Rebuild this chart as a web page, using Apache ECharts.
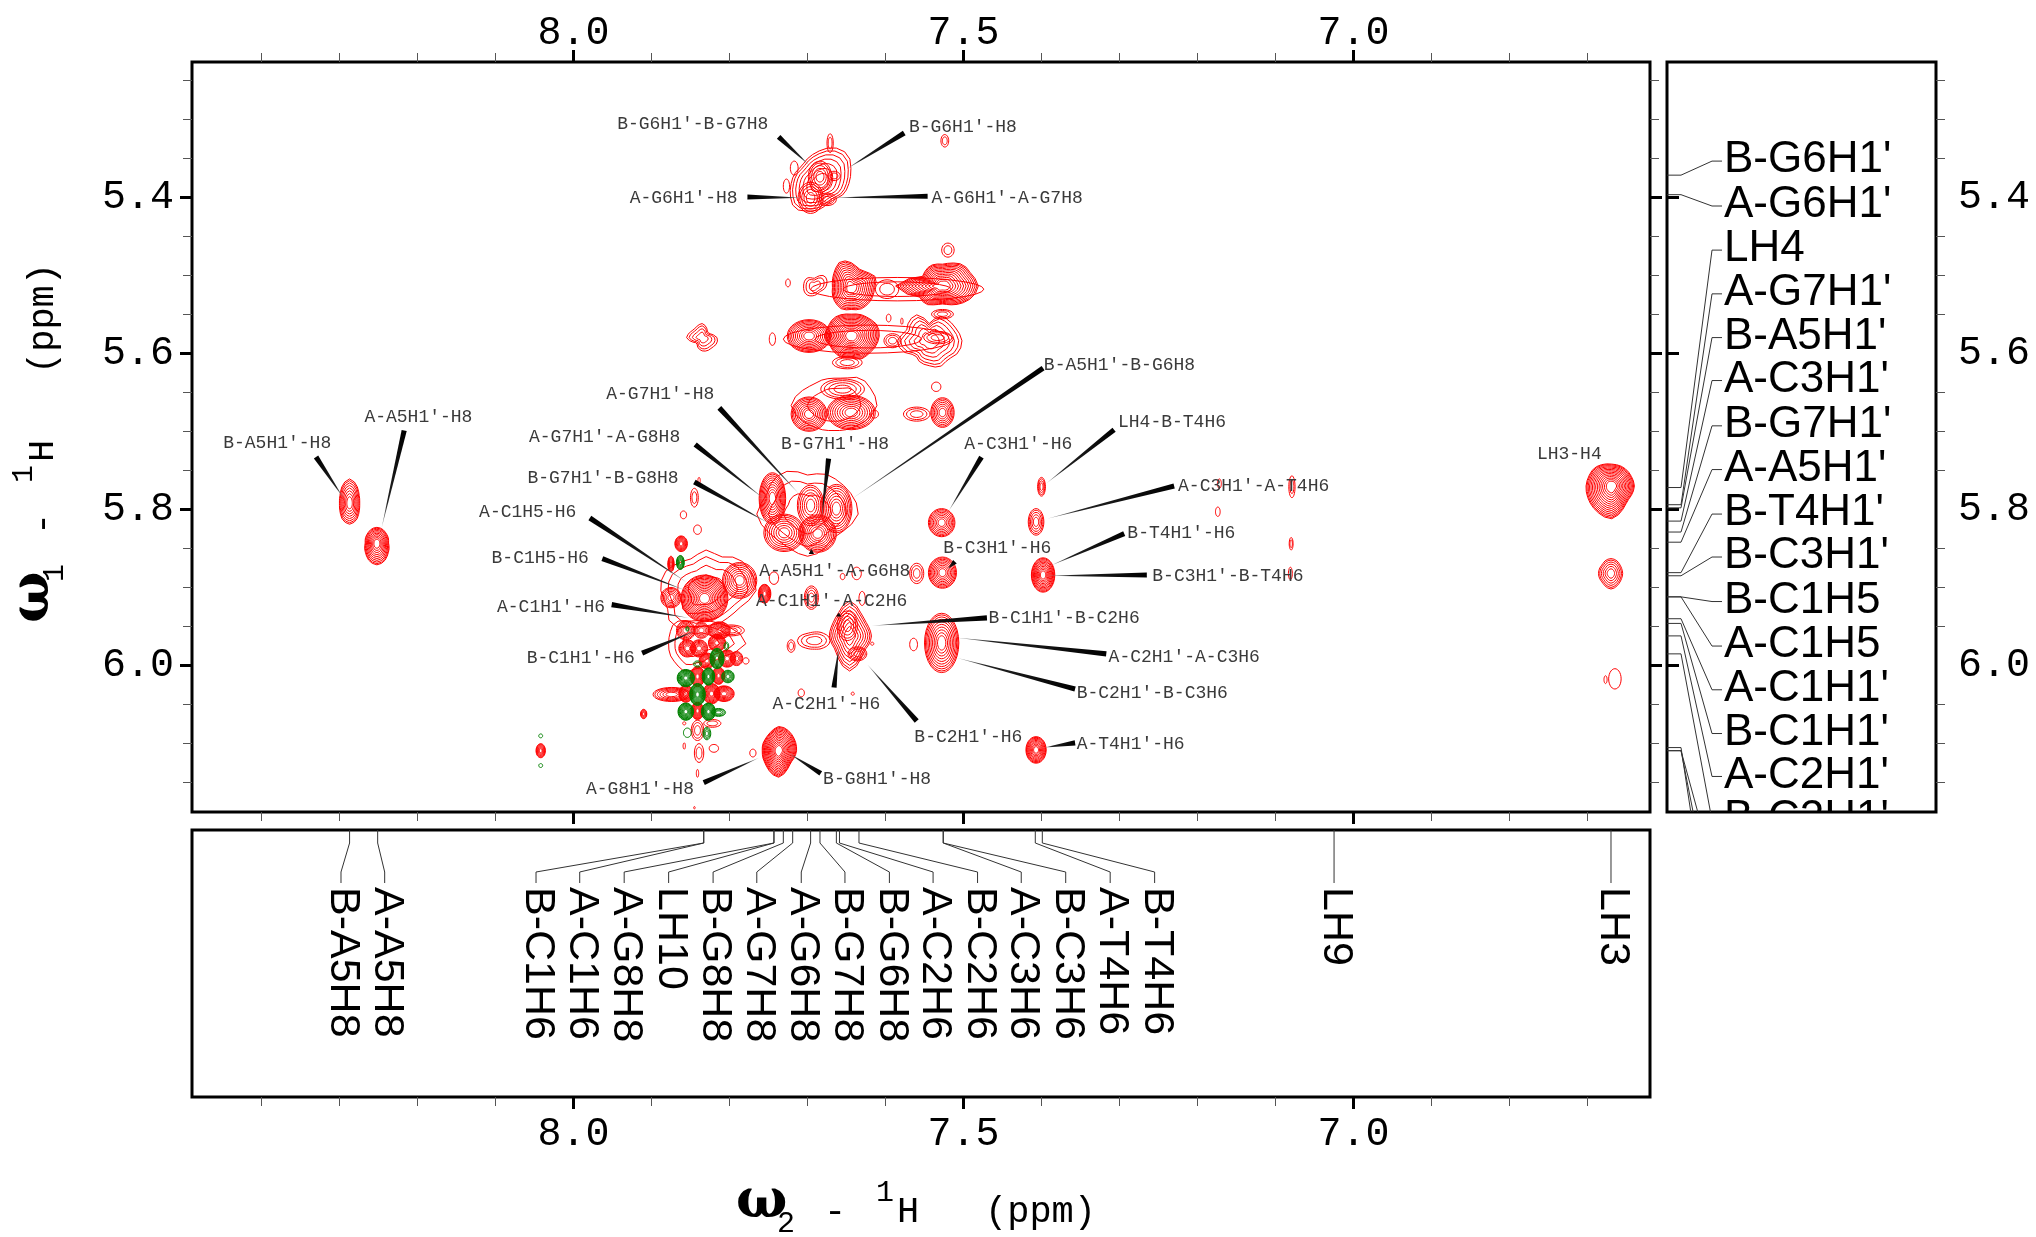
<!DOCTYPE html>
<html><head><meta charset="utf-8">
<style>html,body{margin:0;padding:0;background:#fff}#c{width:2036px;height:1237px}</style>
<script src="https://cdn.jsdelivr.net/npm/echarts@6/dist/echarts.min.js"></script>
</head><body><div id="c"></div>
<script>
// Axis ranges and ticks (ppm)
const w2Range = [6.620, 8.489];
const w1Range = [5.2271, 6.1875];
const w2Major = [8.0, 7.5, 7.0];
const w2Minor = [8.4,8.3,8.2,8.1,7.9,7.8,7.7,7.6,7.4,7.3,7.2,7.1,6.9,6.8,6.7];
const w1Major = [5.4, 5.6, 5.8, 6.0];
const w1Minor = [5.25,5.3,5.35,5.45,5.5,5.55,5.65,5.7,5.75,5.85,5.9,5.95,6.05,6.1,6.15];

// Contour peaks: [w2, w1, contour levels, half-widths in 0.001 ppm]
// half-widths are either (w2, w1) or a list of outline radii going round from E through N
const peaksG6 = [
 [7.671,5.331,2,4,12],[7.685,5.383,7,[38,44,52,50,42,36,32,34,36,40,44,38,33,28,28,34]],[7.684,5.374,5,15,20],[7.696,5.401,5,16,20],
 [7.666,5.373,2,8,6],[7.675,5.403,3,12,8],[7.717,5.363,1,5,9],[7.727,5.386,1,4,9],[7.524,5.328,2,5,8],[7.520,5.468,2,8,9]];
const peaksRidge1 = [
 [7.644,5.516,11,[30,34,28,26,32,36,30,26,24,26,28,30,28,30,30,30]],[7.527,5.514,13,[46,40,38,32,28,30,30,30,60,34,32,26,23,26,32,40]],[7.598,5.518,2,15,12],[7.691,5.514,3,[15,18,10,14,14,15,12,10]],[7.725,5.510,1,3,5],
 [7.585,5.518,2,111,15]];
const peaksRidge2 = [
 [7.644,5.578,14,[36,36,32,30,28,30,32,32,34,30,30,30,28,32,32,34]],[7.698,5.578,10,28,21],[7.591,5.584,3,11,9],
 [7.544,5.584,6,[42,38,36,34,22,36,36,32,41,36,26,30,32,36,34,40]],
 [7.533,5.580,3,18,8],[7.527,5.550,3,14,6],[7.596,5.555,1,3,5],[7.579,5.559,1,1.5,4],
 [7.835,5.580,4,[19,12,10,14,18,16,15,17,20,14,10,14,17,18,18,20]],[7.745,5.582,1,4,8],[7.649,5.612,3,19,8],[7.622,5.582,2,109,18]];
const peaksRidge3 = [
 [7.666,5.667,2,[55,52,49,38,35,36,38,46,55,46,38,34,32,34,38,46]],[7.698,5.678,9,23,22],[7.644,5.676,9,31,22],[7.655,5.646,4,28,13],
 [7.527,5.676,7,15,19],[7.560,5.678,3,17,9],[7.535,5.643,1,6,6],[7.614,5.678,1,5,5]];
const peaksG7 = [
 [7.700,5.806,3,[65,62,58,56,50,60,62,58,65,56,50,50,54,50,45,52]],[7.745,5.786,10,17,33],[7.730,5.830,8,26,24],[7.687,5.831,9,24,24],
 [7.696,5.795,6,17,26],[7.663,5.799,8,20,31],[7.845,5.785,2,5,12],[7.859,5.807,1,4,5],[7.841,5.826,1,5,6],
 [7.839,5.763,1,1.5,4],[7.862,5.844,8,8,10],[7.875,5.870,7,4,10]];
const peaksC1 = [
 [7.832,5.914,14,30,30],[7.830,5.904,4,[64,62,58,47,52,45,50,58,58,54,62,50,45,45,45,50]],[7.787,5.891,8,22,23],[7.875,5.913,6,13,13],
 [7.755,5.908,9,8,12],[7.743,5.888,1,6,8],[7.695,5.913,4,9,15],[7.637,5.882,1,6,8],[7.560,5.882,3,9,13],
 [7.655,5.886,1,3,4],[7.630,5.914,1,4,9]];
const peaksChequerRed = [
 [7.843,5.972,3,[64,50,38,32,26,32,38,36,35,36,36,38,32,32,32,40]],[7.856,5.955,6,12,12],[7.836,5.955,5,10,10],[7.813,5.955,8,14,11],
 [7.798,5.955,3,17,7],[7.854,5.978,7,11,11],[7.839,5.978,7,11,11],[7.816,5.971,8,11,11],[7.829,5.994,8,10,10],
 [7.803,5.991,8,11,11],[7.791,5.991,5,8,9],[7.779,5.994,1,4,4],[7.841,6.014,10,9,13],[7.814,6.013,9,8,11],
 [7.874,6.037,6,24,9],[7.856,6.036,9,9,11],[7.823,6.036,10,11,13],[7.807,6.036,8,13,10],[7.841,6.058,10,8,11],
 [7.841,6.083,3,8,13],[7.822,6.074,2,11,5],[7.839,6.112,2,6,12],[7.820,6.106,1,6,5],[7.858,6.074,1,2,2],
 [7.858,6.103,1,1.5,4],[7.841,6.138,1,1.5,5],[7.845,6.182,1,1,1.5],[7.910,6.062,5,4,6],[8.042,6.109,7,6,9]];
const peaksG8C2 = [
 [7.737,6.109,14,[23,24,26,29,31,26,23,22,21,22,24,29,34,27,22,22]],[7.770,6.112,1,4,5],[7.646,5.962,8,[28,27,28,34,45,34,28,26,26,25,26,34,45,34,27,27]],
 [7.649,5.949,4,13,19],[7.636,5.985,4,12,9],[7.691,5.968,3,[20,14,11,13,22,14,11,14]],[7.721,5.975,2,5,8],[7.708,6.035,1,4,5],
 [7.642,6.036,1,2,2],[7.617,5.972,1,2,2]];
const peaksC3T4 = [
 [7.528,5.817,8,17,18],[7.527,5.881,9,18,20],[7.528,5.971,10,22,38],[7.564,5.973,1,5,8],
 [7.400,5.771,4,5,12],[7.407,5.816,5,10,17],[7.398,5.884,11,15,22],[7.407,6.108,10,13,17],
 [7.172,5.767,1,2.5,6],[7.174,5.803,1,3,6],[7.079,5.771,2,4,14],[7.080,5.844,2,2.5,8],[7.081,5.882,1,2.5,8]];
const peaksLH3 = [
 [6.669,5.770,14,[29,28,28,28,28,30,32,32,33,34,36,39,42,34,28,28]],[6.670,5.882,6,[15,15,16,18,19,18,16,16,16,16,16,18,20,18,16,15]],[6.665,6.017,1,8,13],[6.677,6.018,1,2,5]];
const peaksA5 = [
 [8.287,5.792,8,[13,14,17,24,31,24,17,14,13,14,17,23,27,23,17,14]],[8.252,5.843,10,[15,16,17,19,20,19,17,16,15,17,20,25,28,25,20,17]]];
const peaksGreen = [
 [7.863,5.868,7,5,9],[7.816,5.991,10,9,13],[7.804,5.975,2,3,5],[7.841,5.998,2,5,4],[7.856,6.016,10,11,11],
 [7.827,6.014,10,8,11],[7.802,6.014,6,8,8],[7.841,6.037,11,10,14],[7.856,6.059,10,10,11],[7.827,6.059,10,9,11],
 [7.814,6.060,4,9,5],[7.854,6.086,1,5,6],[7.829,6.087,4,5,8],[8.042,6.090,1,2.5,2.5],[8.042,6.128,1,2.5,2.5],
 [7.854,5.953,2,2,3]];

// Cross-peak annotations: text, text anchor, leader base, leader tip (w2, w1 in ppm)
const crossText = ["B-G6H1'-B-G7H8","B-G6H1'-H8","A-G6H1'-H8","A-G6H1'-A-G7H8","A-G7H1'-H8","A-G7H1'-A-G8H8","B-G7H1'-B-G8H8",
 "A-C1H5-H6","B-C1H5-H6","A-C1H1'-H6","B-C1H1'-H6","B-A5H1'-H8","A-A5H1'-H8","B-G7H1'-H8","B-A5H1'-B-G6H8","A-C3H1'-H6",
 "LH4-B-T4H6","A-C3H1'-A-T4H6","B-T4H1'-H6","B-C3H1'-B-T4H6","B-C3H1'-H6","A-A5H1'-A-G6H8","A-C1H1'-A-C2H6","B-C1H1'-B-C2H6",
 "A-C2H1'-A-C3H6","B-C2H1'-B-C3H6","A-C2H1'-H6","B-C2H1'-H6","A-T4H1'-H6","A-G8H1'-H8","B-G8H1'-H8","LH3-H4"];
const crossAnchor = [[7.944,5.307],[7.570,5.310],[7.928,5.401],[7.541,5.401],[7.958,5.652],[8.057,5.708],[8.059,5.760],
 [8.121,5.804],[8.105,5.862],[8.098,5.925],[8.060,5.990],[8.449,5.715],[8.268,5.682],[7.734,5.717],[7.397,5.616],[7.499,5.716],
 [7.302,5.689],[7.225,5.770],[7.290,5.830],[7.258,5.886],[7.526,5.850],[7.762,5.879],[7.766,5.917],[7.468,5.940],
 [7.314,5.989],[7.355,6.036],[7.745,6.050],[7.563,6.092],[7.355,6.101],[7.984,6.158],[7.680,6.146],[6.765,5.729]];
const crossBase = [[7.737,5.323],[7.576,5.318],[7.777,5.400],[7.546,5.399],[7.813,5.670],[7.844,5.717],[7.845,5.765],
 [7.979,5.811],[7.963,5.863],[7.951,5.922],[7.912,5.984],[8.330,5.733],[8.217,5.699],[7.673,5.735],[7.398,5.619],[7.477,5.733],
 [7.307,5.698],[7.230,5.770],[7.294,5.831],[7.265,5.884],[7.511,5.867],[7.695,5.857],[7.660,5.937],[7.470,5.939],
 [7.317,5.985],[7.357,6.030],[7.666,6.028],[7.560,6.071],[7.357,6.099],[7.833,6.150],[7.683,6.138],null];
const crossTip = [[7.698,5.359],[7.650,5.364],[7.708,5.401],[7.668,5.401],[7.711,5.780],[7.755,5.787],[7.749,5.818],
 [7.854,5.894],[7.856,5.904],[7.852,5.939],[7.843,5.955],[8.295,5.785],[8.246,5.824],[7.682,5.812],[7.644,5.787],[7.519,5.802],
 [7.394,5.767],[7.393,5.812],[7.388,5.872],[7.393,5.885],[7.520,5.876],[7.695,5.850],[7.660,5.932],[7.618,5.949],
 [7.511,5.964],[7.509,5.990],[7.660,5.977],[7.623,5.999],[7.396,6.105],[7.762,6.118],[7.723,6.113],null];

// w2 assignments in the lower panel: text, shift of the resonance, shift of the text
const w2Text = ["B-A5H8","A-A5H8","B-C1H6","A-C1H6","A-G8H8","LH10","B-G8H8","A-G7H8","A-G6H8","B-G7H8","B-G6H8","A-C2H6","B-C2H6","A-C3H6","B-C3H6","A-T4H6","B-T4H6","LH9","LH3"];
const w2Shift = [8.287,8.251,7.833,7.833,7.743,7.743,7.731,7.719,7.696,7.684,7.663,7.659,7.634,7.526,7.526,7.408,7.399,7.025,6.670];
const w2TextAt = [8.298,8.242,8.048,7.992,7.935,7.878,7.821,7.765,7.708,7.652,7.595,7.539,7.482,7.426,7.369,7.312,7.255,7.025,6.670];

// w1 assignments in the right panel
const w1Text = ["B-G6H1'","A-G6H1'","LH4","A-G7H1'","B-A5H1'","A-C3H1'","B-G7H1'","A-A5H1'","B-T4H1'","B-C3H1'","B-C1H5","A-C1H5","A-C1H1'","B-C1H1'","A-C2H1'","B-C2H1'","A-G8H1'","B-G8H1'","A-T4H1'"];
const w1Shift = [5.372,5.397,5.772,5.794,5.798,5.815,5.829,5.842,5.881,5.885,5.912,5.912,5.940,5.946,5.962,5.985,6.109,6.109,6.105];
const w1TextAt = [5.354,5.4115,5.468,5.524,5.580,5.635,5.693,5.749,5.806,5.861,5.918,5.975,6.031,6.087,6.142,6.198,6.254,6.310,6.366];

const MONO = "'Liberation Mono'", SANS = "'Liberation Sans'";
const chart = echarts.init(document.getElementById('c'), null, {renderer:'canvas'});
const redPeaks = [].concat(peaksG6,peaksRidge1,peaksRidge2,peaksRidge3,peaksG7,peaksC1,peaksChequerRed,peaksG8C2,peaksC3T4,peaksLH3,peaksA5);

function axisOf(kind, gridIndex, position, range, values, major, labelled, margin){
  return {type:'value', gridIndex, position, inverse:true, min:range[0], max:range[1], scale:true,
    axisLine:{show:false}, splitLine:{show:false}, minorTick:{show:false},
    axisTick:{show:true, inside:false, customValues:values, length:major?12:9, lineStyle:{color:major?'#000':'#555', width:major?3:1}},
    axisLabel:{show:!!labelled, customValues:values, margin:margin||10, fontFamily:'Liberation Mono', fontSize:40, color:'#000',
      formatter:v=>Number(v).toFixed(1)}};
}
const hidden = (gridIndex)=>({type:'value', gridIndex, min:0, max:1, show:false});
const xAxes = [
  axisOf('x',0,'top',w2Range,w2Major,true,true,9), axisOf('x',0,'top',w2Range,w2Minor,false),
  axisOf('x',0,'bottom',w2Range,w2Major,true), axisOf('x',0,'bottom',w2Range,w2Minor,false),
  axisOf('x',1,'bottom',w2Range,w2Major,true,true,17), axisOf('x',1,'bottom',w2Range,w2Minor,false),
  hidden(2)];
const yAxes = [
  axisOf('y',0,'left',w1Range,w1Major,true,true,18), axisOf('y',0,'left',w1Range,w1Minor,false),
  axisOf('y',0,'right',w1Range,w1Major,true), axisOf('y',0,'right',w1Range,w1Minor,false),
  hidden(1),
  axisOf('y',2,'right',w1Range,w1Major,true,true,22), axisOf('y',2,'right',w1Range,w1Minor,false)];

// Outline radius at a fraction of the way round, rounded smoothly between the read radii
function radiusAt(list, f){
  const n = list.length, t = f*n, i = Math.floor(t), u = t-i;
  const p0 = list[(i-1+n)%n], p1 = list[i%n], p2 = list[(i+1)%n], p3 = list[(i+2)%n];
  return 0.5*((2*p1)+(-p0+p2)*u+(2*p0-5*p1+4*p2-p3)*u*u+(-p0+3*p1-3*p2+p3)*u*u*u);
}
// Nested contour rings of a peak, placed through the axes
function contourRender(rows, color){
  return function(params, api){
    const r = rows[params.dataIndex], n = r[2], children = [];
    for(let k=0;k<n;k++){
      const s = 1 - 0.86*Math.pow(k/n,1.2), pts = [];
      for(let i=0;i<28;i++){
        const f = i/28, a = f*2*Math.PI; let dx, dy;
        if(Array.isArray(r[3])){ const q = radiusAt(r[3],f); dx = q*Math.cos(a); dy = q*Math.sin(a); }
        else { dx = r[3]*Math.cos(a); dy = r[4]*Math.sin(a); }
        pts.push(api.coord([r[0]-s*dx/1000, r[1]-s*dy/1000]));
      }
      children.push({type:'polygon', shape:{points:pts}, style:{fill:'none', stroke:color, lineWidth:1}, silent:true});
    }
    return {type:'group', children};
  };
}
const contourSeries = (name, rows, color)=>({type:'custom', name, xAxisIndex:0, yAxisIndex:0, clip:true, progressive:0, silent:true,
  data:rows.map(r=>[r[0],r[1]]), encode:{x:0,y:1}, renderItem:contourRender(rows,color)});

function crossRender(params, api){
  const i = params.dataIndex, anchor = api.coord(crossAnchor[i]), children = [];
  if(crossBase[i]){
    const b = api.coord(crossBase[i]), t = api.coord(crossTip[i]);
    const dx=t[0]-b[0], dy=t[1]-b[1], len=Math.hypot(dx,dy)||1, nx=-dy/len*2.6, ny=dx/len*2.6;
    children.push({type:'polygon', shape:{points:[[b[0]+nx,b[1]+ny],[b[0]-nx,b[1]-ny],t]},
      style:{fill:new echarts.graphic.LinearGradient(b[0],b[1],t[0],t[1],[{offset:0,color:'#000'},{offset:0.75,color:'#222'},{offset:1,color:'#aaa'}],true)}, silent:true});
  }
  children.push({type:'text', x:anchor[0], y:anchor[1], style:{text:crossText[i], font:"18px "+MONO, fill:'#3a3a3a', align:'left', verticalAlign:'middle'}, silent:true});
  return {type:'group', children};
}
function lowerRender(params, api){
  const i = params.dataIndex, top = params.coordSys.y;
  const xs = api.coord([w2Shift[i],0.5])[0], xl = api.coord([w2TextAt[i],0.5])[0];
  return {type:'group', children:[
    {type:'polyline', shape:{points:[[xs,top],[xs,top+13],[xl,top+42],[xl,top+53]]}, style:{fill:'none',stroke:'#333',lineWidth:1}, silent:true},
    {type:'text', x:xl+2, y:top+57, rotation:-Math.PI/2, style:{text:w2Text[i], font:"43px "+SANS, fill:'#000', align:'left', verticalAlign:'middle'}, silent:true}
  ]};
}
function rightRender(params, api){
  const i = params.dataIndex, left = params.coordSys.x;
  const ys = api.coord([0.5,w1Shift[i]])[1], yl = api.coord([0.5,w1TextAt[i]])[1];
  return {type:'group', children:[
    {type:'polyline', shape:{points:[[left,ys],[left+14,ys],[left+45,yl],[left+55,yl]]}, style:{fill:'none',stroke:'#333',lineWidth:1}, silent:true},
    {type:'text', x:left+57, y:yl-1, style:{text:w1Text[i], font:"44px "+SANS, fill:'#000', align:'left', verticalAlign:'middle'}, silent:true}
  ]};
}

// Axis titles
function titlePieces(sub){
  return [
    ["\u03C9","bold 54px 'DejaVu Serif'",736,1203],[sub,"30px "+MONO,777,1224],["-","37px "+MONO,824,1212],
    ["1","30px "+MONO,876,1193],["H","37px "+MONO,897,1212],["(ppm)","37px "+MONO,985,1212]];
}
const titleEls = [];
titlePieces("2").forEach(p=>titleEls.push({type:'text', x:p[2], y:p[3], silent:true, style:{text:p[0],font:p[1],fill:'#000',align:'left',verticalAlign:'middle'}}));
titlePieces("1").forEach(p=>titleEls.push({type:'text', x:43-(1212-p[3]), y:372+(987-p[2]), rotation:Math.PI/2, silent:true, style:{text:p[0],font:p[1],fill:'#000',align:'left',verticalAlign:'middle'}}));

chart.setOption({
  animation:false, backgroundColor:'#fff',
  grid:[
    {left:192, top:62, width:1458, height:750, show:true, borderColor:'#000', borderWidth:3, backgroundColor:'transparent', containLabel:false},
    {left:192, top:830, width:1458, height:267, show:true, borderColor:'#000', borderWidth:3, backgroundColor:'transparent', containLabel:false},
    {left:1667, top:62, width:269, height:750, show:true, borderColor:'#000', borderWidth:3, backgroundColor:'transparent', containLabel:false}],
  xAxis:xAxes, yAxis:yAxes,
  graphic:{elements:titleEls},
  series:[
    contourSeries('red contours', redPeaks, '#ff0000'),
    contourSeries('green contours', peaksGreen, '#008000'),
    {type:'custom', name:'cross peaks', xAxisIndex:0, yAxisIndex:0, clip:false, progressive:0, silent:true,
      data:crossAnchor.map(a=>[a[0],a[1]]), encode:{x:0,y:1}, renderItem:crossRender},
    {type:'custom', name:'w2 assignments', xAxisIndex:4, yAxisIndex:4, clip:false, progressive:0, silent:true,
      data:w2Shift.map(v=>[v,0.5]), encode:{x:0,y:1}, renderItem:lowerRender},
    {type:'custom', name:'w1 assignments', xAxisIndex:6, yAxisIndex:5, clip:true, progressive:0, silent:true,
      data:w1Shift.map(v=>[0.5,v]), encode:{x:0,y:1}, renderItem:rightRender}
  ]
});
</script></body></html>
